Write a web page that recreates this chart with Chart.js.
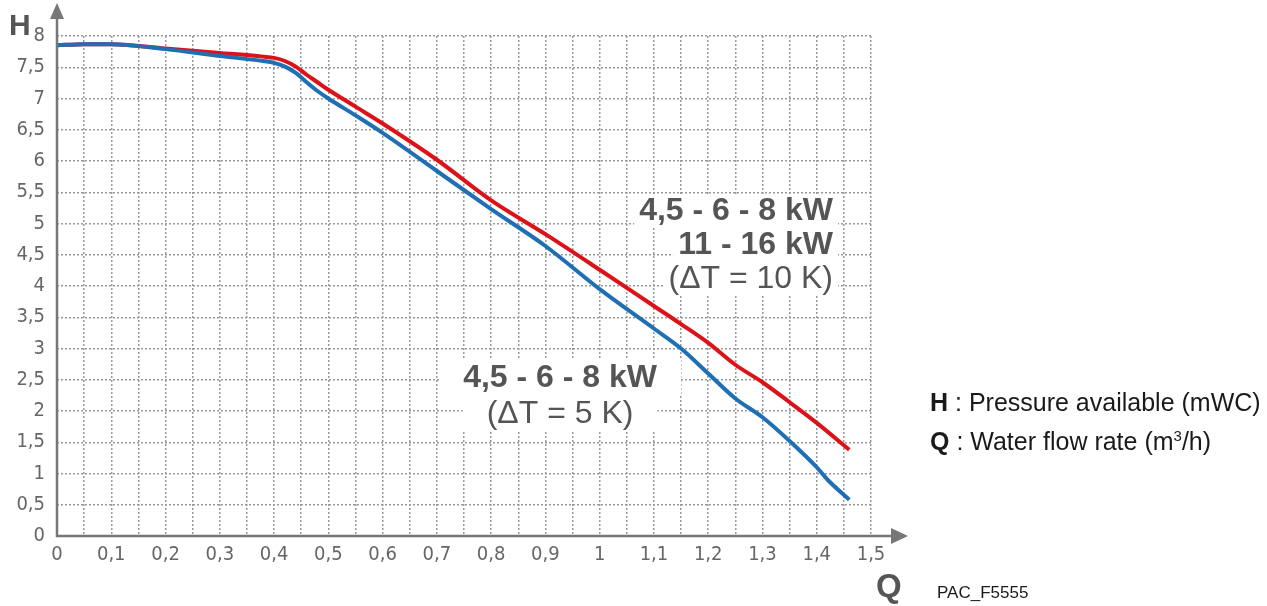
<!DOCTYPE html>
<html>
<head>
<meta charset="utf-8">
<script src="https://cdn.jsdelivr.net/npm/chart.js@4/dist/chart.umd.min.js"></script>
<style>
  html, body { margin: 0; padding: 0; background: #fff; }
  #wrap { width: 1267px; height: 606px; position: relative; }
</style>
</head>
<body>
<div id="wrap"><canvas id="pumpChart" width="1267" height="606"></canvas></div>
<script>
// flow rate Q (m3/h) and available pressure H (mWC)
const qBlue = [0, 0.05, 0.1, 0.2, 0.3, 0.38, 0.4, 0.42, 0.44, 0.46, 0.48, 0.5, 0.55, 0.6, 0.7, 0.8, 0.9, 1.0, 1.1, 1.15, 1.2, 1.25, 1.3, 1.35, 1.4, 1.42, 1.46];
const hBlue = [7.85, 7.87, 7.87, 7.79, 7.68, 7.6, 7.57, 7.51, 7.41, 7.26, 7.12, 7.0, 6.73, 6.45, 5.84, 5.23, 4.64, 3.95, 3.32, 3.0, 2.6, 2.2, 1.9, 1.52, 1.1, 0.9, 0.58];
const qRed = [0, 0.05, 0.1, 0.2, 0.3, 0.38, 0.4, 0.42, 0.44, 0.46, 0.48, 0.5, 0.55, 0.6, 0.7, 0.8, 0.9, 1.0, 1.1, 1.15, 1.2, 1.25, 1.3, 1.35, 1.4, 1.46];
const hRed = [7.85, 7.87, 7.87, 7.8, 7.73, 7.67, 7.65, 7.6, 7.51, 7.38, 7.26, 7.14, 6.87, 6.6, 6.02, 5.37, 4.83, 4.26, 3.68, 3.39, 3.09, 2.74, 2.46, 2.14, 1.81, 1.38];

// axis range and the label texts
const qMin = 0, qMax = 1.5, qStep = 0.05;
const hMin = 0, hMax = 8, hStep = 0.5;
const redLabel = ['4,5 - 6 - 8 kW', '11 - 16 kW', '(\u0394T = 10 K)'];
const blueLabel = ['4,5 - 6 - 8 kW', '(\u0394T = 5 K)'];

const pts = (xs, ys) => xs.map((x, i) => ({x: x, y: ys[i]}));
const comma = v => String(v).replace('.', ',');

const GREY = '#666';
const NARROW = '"Liberation Sans Narrow", "Arial Narrow", "DejaVu Sans Condensed", sans-serif';
const WIDE = '"Liberation Sans", Arial, sans-serif';

// draws label lines with white boxes behind them, so grid is hidden
function drawLabel(ctx, lines, fonts, x, y, lh, align, padX) {
  ctx.save();
  ctx.textBaseline = 'middle';
  ctx.textAlign = align;
  lines.forEach((t, i) => {
    ctx.font = fonts[i];
    const w = ctx.measureText(t).width;
    const cy = y + i * lh;
    let left = align === 'right' ? x - w : (align === 'center' ? x - w / 2 : x);
    ctx.fillStyle = '#fff';
    ctx.fillRect(left - padX, cy - lh / 2, w + padX * 2, lh);
  });
  lines.forEach((t, i) => {
    ctx.font = fonts[i];
    ctx.fillStyle = '#555';
    ctx.fillText(t, x, y + i * lh);
  });
  ctx.restore();
}

const decor = {
  id: 'decor',
  beforeDatasetsDraw(chart) {
    const {ctx, scales: {x, y}} = chart;
    const bold = 'bold 32px ' + WIDE;
    const light = '32px ' + WIDE;
    drawLabel(ctx, redLabel, [bold, bold, light], x.getPixelForValue(1.43), y.getPixelForValue(5.2), 34, 'right', 5);
    drawLabel(ctx, blueLabel, [bold, light], x.getPixelForValue(0.927), y.getPixelForValue(2.53), 36, 'center', 24);
  },
  afterDraw(chart) {
    const {ctx, scales: {x, y}} = chart;
    const x0 = x.getPixelForValue(0), y0 = y.getPixelForValue(0);
    ctx.save();
    // axes with arrows
    ctx.strokeStyle = '#777';
    ctx.fillStyle = '#777';
    ctx.lineWidth = 2.5;
    ctx.beginPath();
    ctx.moveTo(x0, y0 + 1);
    ctx.lineTo(x0, 16);
    ctx.moveTo(x0 - 1, y0);
    ctx.lineTo(894, y0);
    ctx.stroke();
    ctx.beginPath();
    ctx.moveTo(x0, 3); ctx.lineTo(x0 - 7, 19); ctx.lineTo(x0 + 7, 19); ctx.closePath();
    ctx.fill();
    ctx.beginPath();
    ctx.moveTo(908, y0); ctx.lineTo(891, y0 - 8); ctx.lineTo(891, y0 + 8); ctx.closePath();
    ctx.fill();

    // axis letters
    ctx.fillStyle = '#555';
    ctx.textBaseline = 'alphabetic';
    ctx.textAlign = 'left';
    ctx.font = 'bold 30px ' + WIDE;
    ctx.fillText('H', 9, 35);
    ctx.font = 'bold 33px ' + WIDE;
    ctx.fillText('Q', 876, 597);

    // key on the right
    ctx.fillStyle = '#1a1a1a';
    ctx.font = 'bold 25px ' + WIDE;
    ctx.fillText('H', 930, 411);
    ctx.fillText('Q', 930, 450);
    const hw = ctx.measureText('H').width, qw = ctx.measureText('Q').width;
    ctx.font = '25px ' + WIDE;
    ctx.fillText(' : Pressure available (mWC)', 930 + hw, 411);
    let t = ' : Water flow rate (m';
    ctx.fillText(t, 930 + qw, 450);
    let px = 930 + qw + ctx.measureText(t).width;
    ctx.font = '15px ' + WIDE;
    ctx.fillText('3', px, 441);
    px += ctx.measureText('3').width;
    ctx.font = '25px ' + WIDE;
    ctx.fillText('/h)', px, 450);

    ctx.font = '17px ' + WIDE;
    ctx.fillText('PAC_F5555', 937, 598);
    ctx.restore();
  }
};

const chart = new Chart(document.getElementById('pumpChart'), {
  type: 'scatter',
  data: {
    datasets: [{
      label: '4,5 - 6 - 8 kW (dT = 5 K)',
      data: pts(qBlue, hBlue),
      borderColor: '#1f6fb4',
      borderWidth: 4,
      showLine: true,
      pointRadius: 0,
      cubicInterpolationMode: 'monotone'
    }, {
      label: '4,5 - 6 - 8 kW / 11 - 16 kW (dT = 10 K)',
      data: pts(qRed, hRed),
      borderColor: '#dc1219',
      borderWidth: 4,
      showLine: true,
      pointRadius: 0,
      cubicInterpolationMode: 'monotone'
    }]
  },
  options: {
    responsive: false,
    animation: false,
    layout: {padding: {left: 0, top: 36, right: 396, bottom: 0}},
    plugins: {legend: {display: false}, tooltip: {enabled: false}},
    scales: {
      x: {
        type: 'linear', min: qMin, max: qMax,
        afterFit: s => { s.height = 70; },
        border: {display: false, dash: [2, 2]},
        grid: {color: '#999', lineWidth: 1.5, drawTicks: false},
        ticks: {
          stepSize: qStep, autoSkip: false, maxRotation: 0, maxTicksLimit: 100, padding: 7,
          color: GREY, font: {family: NARROW, size: 20},
          callback: v => { const k = Math.round(v * 20); return k % 2 ? '' : comma(k / 20); }
        }
      },
      y: {
        type: 'linear', min: hMin, max: hMax,
        afterFit: s => { s.width = 57; },
        border: {display: false, dash: [2, 2]},
        grid: {color: '#999', lineWidth: 1.5, drawTicks: false},
        ticks: {
          stepSize: hStep, autoSkip: false, maxTicksLimit: 100, padding: 12,
          color: GREY, font: {family: NARROW, size: 20},
          callback: v => comma(v)
        }
      }
    }
  },
  plugins: [decor]
});
</script>
</body>
</html>
